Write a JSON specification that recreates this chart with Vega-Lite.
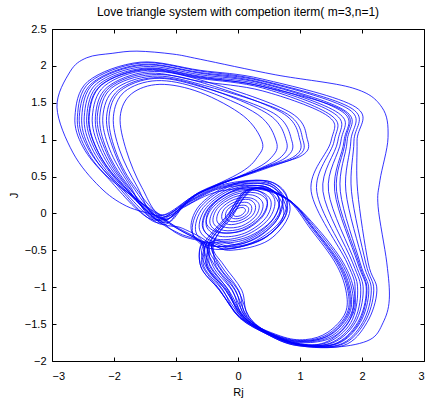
{
"$schema":"https://vega.github.io/schema/vega-lite/v6.json",
"width":372,"height":332,"autosize":"none",
"padding":{"left":52,"top":29,"right":1,"bottom":42},
"background":"white",
"title":{"text":"Love triangle system with competion iterm( m=3,n=1)","font":"Liberation Sans","fontSize":12,"fontWeight":"normal","color":"black","offset":4,"anchor":"middle"},
"config":{"view":{"stroke":"black","strokeWidth":1},
"axis":{"domain":false,"grid":false,"ticks":true,"tickColor":"black","tickSize":4,"tickWidth":1,"offset":-4,"labelFont":"Liberation Sans","labelFontSize":11,"labelColor":"black","titleFont":"Liberation Sans","titleFontSize":11,"titleFontWeight":"normal","titleColor":"black"}},
"datasets":{"pts":[
{"s":"S1","x":0.79,"y":0.23},{"s":"S1","x":0.48,"y":0.44},{"s":"S1","x":-0.10,"y":0.38},{"s":"S1","x":-0.60,"y":0.09},{"s":"S1","x":-0.73,"y":-0.27},{"s":"S1","x":-0.42,"y":-0.48},{"s":"S1","x":0.16,"y":-0.42},{"s":"S1","x":0.66,"y":-0.13},
{"s":"S2","x":0.71,"y":0.24},{"s":"S2","x":0.41,"y":0.44},{"s":"S2","x":-0.15,"y":0.38},{"s":"S2","x":-0.63,"y":0.10},{"s":"S2","x":-0.75,"y":-0.24},{"s":"S2","x":-0.45,"y":-0.44},{"s":"S2","x":0.11,"y":-0.38},{"s":"S2","x":0.59,"y":-0.10},
{"s":"S3","x":0.72,"y":0.21},{"s":"S3","x":0.43,"y":0.40},{"s":"S3","x":-0.10,"y":0.35},{"s":"S3","x":-0.56,"y":0.08},{"s":"S3","x":-0.68,"y":-0.25},{"s":"S3","x":-0.39,"y":-0.44},{"s":"S3","x":0.14,"y":-0.39},{"s":"S3","x":0.60,"y":-0.12},
{"s":"S4","x":0.66,"y":0.20},{"s":"S4","x":0.40,"y":0.37},{"s":"S4","x":-0.09,"y":0.33},{"s":"S4","x":-0.51,"y":0.08},{"s":"S4","x":-0.62,"y":-0.22},{"s":"S4","x":-0.36,"y":-0.39},{"s":"S4","x":0.13,"y":-0.35},{"s":"S4","x":0.55,"y":-0.10},
{"s":"S5","x":0.66,"y":0.20},{"s":"S5","x":0.41,"y":0.37},{"s":"S5","x":-0.05,"y":0.32},{"s":"S5","x":-0.45,"y":0.09},{"s":"S5","x":-0.56,"y":-0.20},{"s":"S5","x":-0.31,"y":-0.37},{"s":"S5","x":0.15,"y":-0.32},{"s":"S5","x":0.55,"y":-0.09},
{"s":"S6","x":0.59,"y":0.19},{"s":"S6","x":0.35,"y":0.35},{"s":"S6","x":-0.09,"y":0.30},{"s":"S6","x":-0.47,"y":0.08},{"s":"S6","x":-0.57,"y":-0.19},{"s":"S6","x":-0.33,"y":-0.35},{"s":"S6","x":0.11,"y":-0.30},{"s":"S6","x":0.49,"y":-0.08},
{"s":"S7","x":0.53,"y":0.17},{"s":"S7","x":0.31,"y":0.31},{"s":"S7","x":-0.08,"y":0.27},{"s":"S7","x":-0.42,"y":0.07},{"s":"S7","x":-0.51,"y":-0.17},{"s":"S7","x":-0.29,"y":-0.31},{"s":"S7","x":0.10,"y":-0.27},{"s":"S7","x":0.44,"y":-0.07},
{"s":"S8","x":0.47,"y":0.19},{"s":"S8","x":0.27,"y":0.32},{"s":"S8","x":-0.10,"y":0.29},{"s":"S8","x":-0.42,"y":0.10},{"s":"S8","x":-0.51,"y":-0.13},{"s":"S8","x":-0.31,"y":-0.26},{"s":"S8","x":0.06,"y":-0.23},{"s":"S8","x":0.38,"y":-0.04},
{"s":"S9","x":0.47,"y":0.16},{"s":"S9","x":0.28,"y":0.28},{"s":"S9","x":-0.07,"y":0.25},{"s":"S9","x":-0.37,"y":0.07},{"s":"S9","x":-0.45,"y":-0.14},{"s":"S9","x":-0.26,"y":-0.26},{"s":"S9","x":0.09,"y":-0.23},{"s":"S9","x":0.39,"y":-0.05},
{"s":"S10","x":0.40,"y":0.14},{"s":"S10","x":0.23,"y":0.25},{"s":"S10","x":-0.07,"y":0.22},{"s":"S10","x":-0.33,"y":0.07},{"s":"S10","x":-0.40,"y":-0.12},{"s":"S10","x":-0.23,"y":-0.23},{"s":"S10","x":0.07,"y":-0.20},{"s":"S10","x":0.33,"y":-0.05},
{"s":"S11","x":0.34,"y":0.12},{"s":"S11","x":0.20,"y":0.21},{"s":"S11","x":-0.06,"y":0.19},{"s":"S11","x":-0.28,"y":0.06},{"s":"S11","x":-0.34,"y":-0.10},{"s":"S11","x":-0.20,"y":-0.19},{"s":"S11","x":0.06,"y":-0.17},{"s":"S11","x":0.28,"y":-0.04},
{"s":"S12","x":0.28,"y":0.11},{"s":"S12","x":0.17,"y":0.19},{"s":"S12","x":-0.04,"y":0.16},{"s":"S12","x":-0.22,"y":0.06},{"s":"S12","x":-0.26,"y":-0.07},{"s":"S12","x":-0.15,"y":-0.15},{"s":"S12","x":0.06,"y":-0.12},{"s":"S12","x":0.24,"y":-0.02},
{"s":"S13","x":0.22,"y":0.09},{"s":"S13","x":0.14,"y":0.15},{"s":"S13","x":-0.03,"y":0.13},{"s":"S13","x":-0.17,"y":0.05},{"s":"S13","x":-0.20,"y":-0.05},{"s":"S13","x":-0.12,"y":-0.11},{"s":"S13","x":0.05,"y":-0.09},{"s":"S13","x":0.19,"y":-0.01},
{"s":"S14","x":0.17,"y":0.07},{"s":"S14","x":0.11,"y":0.11},{"s":"S14","x":-0.01,"y":0.10},{"s":"S14","x":-0.11,"y":0.04},{"s":"S14","x":-0.13,"y":-0.03},{"s":"S14","x":-0.07,"y":-0.07},{"s":"S14","x":0.05,"y":-0.06},{"s":"S14","x":0.15,"y":0.00},
{"s":"S15","x":0.12,"y":0.05},{"s":"S15","x":0.08,"y":0.08},{"s":"S15","x":0.00,"y":0.07},{"s":"S15","x":-0.06,"y":0.03},{"s":"S15","x":-0.08,"y":-0.01},{"s":"S15","x":-0.04,"y":-0.04},{"s":"S15","x":0.04,"y":-0.03},{"s":"S15","x":0.10,"y":0.01},
{"s":"U1","x":-1.22,"y":-0.02},{"s":"U1","x":-1.55,"y":0.35},{"s":"U1","x":-1.80,"y":0.85},{"s":"U1","x":-1.90,"y":1.31},{"s":"U1","x":-1.72,"y":1.62},{"s":"U1","x":-1.26,"y":1.75},{"s":"U1","x":-0.61,"y":1.64},{"s":"U1","x":0.09,"y":1.32},{"s":"U1","x":0.39,"y":0.97},{"s":"U1","x":0.31,"y":0.76},{"s":"U1","x":0.05,"y":0.56},{"s":"U1","x":-0.61,"y":0.28},
{"s":"U2","x":-1.28,"y":-0.06},{"s":"U2","x":-1.63,"y":0.37},{"s":"U2","x":-1.91,"y":0.86},{"s":"U2","x":-2.01,"y":1.31},{"s":"U2","x":-1.83,"y":1.65},{"s":"U2","x":-1.31,"y":1.80},{"s":"U2","x":-0.61,"y":1.69},{"s":"U2","x":0.32,"y":1.34},{"s":"U2","x":0.62,"y":0.97},{"s":"U2","x":0.54,"y":0.76},{"s":"U2","x":0.20,"y":0.57},{"s":"U2","x":-0.61,"y":0.28},
{"s":"U3","x":-1.20,"y":-0.08},{"s":"U3","x":-1.72,"y":0.39},{"s":"U3","x":-2.01,"y":0.87},{"s":"U3","x":-2.12,"y":1.31},{"s":"U3","x":-1.93,"y":1.67},{"s":"U3","x":-1.36,"y":1.84},{"s":"U3","x":-0.61,"y":1.73},{"s":"U3","x":0.48,"y":1.35},{"s":"U3","x":0.78,"y":0.98},{"s":"U3","x":0.70,"y":0.77},{"s":"U3","x":0.30,"y":0.59},{"s":"U3","x":-0.62,"y":0.27},
{"s":"U4","x":-1.30,"y":-0.03},{"s":"U4","x":-1.80,"y":0.41},{"s":"U4","x":-2.12,"y":0.87},{"s":"U4","x":-2.23,"y":1.31},{"s":"U4","x":-2.04,"y":1.70},{"s":"U4","x":-1.40,"y":1.88},{"s":"U4","x":-0.61,"y":1.78},{"s":"U4","x":0.70,"y":1.37},{"s":"U4","x":1.00,"y":0.99},{"s":"U4","x":0.92,"y":0.78},{"s":"U4","x":0.40,"y":0.61},{"s":"U4","x":-0.60,"y":0.29},
{"s":"U5","x":-1.25,"y":-0.10},{"s":"U5","x":-1.86,"y":0.43},{"s":"U5","x":-2.19,"y":0.88},{"s":"U5","x":-2.30,"y":1.31},{"s":"U5","x":-2.11,"y":1.71},{"s":"U5","x":-1.44,"y":1.92},{"s":"U5","x":-0.61,"y":1.81},{"s":"U5","x":0.82,"y":1.38},{"s":"U5","x":1.12,"y":1.00},{"s":"U5","x":1.04,"y":0.79},{"s":"U5","x":0.45,"y":0.62},{"s":"U5","x":-0.60,"y":0.30},
{"s":"U6","x":-1.18,"y":-0.04},{"s":"U6","x":-1.69,"y":0.39},{"s":"U6","x":-1.98,"y":0.86},{"s":"U6","x":-2.08,"y":1.31},{"s":"U6","x":-1.90,"y":1.66},{"s":"U6","x":-1.34,"y":1.83},{"s":"U6","x":-0.61,"y":1.72},{"s":"U6","x":0.57,"y":1.36},{"s":"U6","x":0.87,"y":0.98},{"s":"U6","x":0.79,"y":0.77},{"s":"U6","x":0.35,"y":0.60},{"s":"U6","x":-0.62,"y":0.28},
{"s":"U7","x":-1.32,"y":-0.08},{"s":"U7","x":-1.76,"y":0.40},{"s":"U7","x":-2.07,"y":0.87},{"s":"U7","x":-2.18,"y":1.31},{"s":"U7","x":-1.99,"y":1.68},{"s":"U7","x":-1.38,"y":1.86},{"s":"U7","x":-0.61,"y":1.75},{"s":"U7","x":0.75,"y":1.37},{"s":"U7","x":1.05,"y":0.99},{"s":"U7","x":0.97,"y":0.78},{"s":"U7","x":0.42,"y":0.60},{"s":"U7","x":-0.61,"y":0.29},
{"s":"B1","x":-1.24,"y":-0.07},{"s":"B1","x":-1.83,"y":0.42},{"s":"B1","x":-2.15,"y":0.88},{"s":"B1","x":-2.27,"y":1.31},{"s":"B1","x":-2.07,"y":1.71},{"s":"B1","x":-1.42,"y":1.90},{"s":"B1","x":-0.61,"y":1.79},{"s":"B1","x":0.40,"y":1.66},{"s":"B1","x":1.45,"y":1.32},{"s":"B1","x":1.50,"y":0.98},{"s":"B1","x":1.18,"y":0.30},{"s":"B1","x":1.76,"y":-0.67},{"s":"B1","x":1.89,"y":-1.04},{"s":"B1","x":1.78,"y":-1.48},{"s":"B1","x":1.40,"y":-1.75},{"s":"B1","x":0.95,"y":-1.76},{"s":"B1","x":0.45,"y":-1.60},{"s":"B1","x":0.08,"y":-1.40},{"s":"B1","x":-0.20,"y":-1.04},{"s":"B1","x":-0.50,"y":-0.72},{"s":"B1","x":-0.50,"y":-0.40},{"s":"B1","x":-0.10,"y":-0.47},{"s":"B1","x":0.45,"y":-0.32},{"s":"B1","x":0.78,"y":0.02},{"s":"B1","x":0.50,"y":0.38},{"s":"B1","x":-0.25,"y":0.36},{"s":"B1","x":-0.85,"y":0.12},
{"s":"B2","x":-1.30,"y":-0.10},{"s":"B2","x":-1.90,"y":0.44},{"s":"B2","x":-2.23,"y":0.88},{"s":"B2","x":-2.35,"y":1.31},{"s":"B2","x":-2.15,"y":1.73},{"s":"B2","x":-1.46,"y":1.94},{"s":"B2","x":-0.61,"y":1.83},{"s":"B2","x":0.40,"y":1.70},{"s":"B2","x":1.50,"y":1.33},{"s":"B2","x":1.55,"y":0.98},{"s":"B2","x":1.27,"y":0.30},{"s":"B2","x":1.80,"y":-0.67},{"s":"B2","x":1.93,"y":-1.04},{"s":"B2","x":1.82,"y":-1.48},{"s":"B2","x":1.44,"y":-1.75},{"s":"B2","x":0.95,"y":-1.76},{"s":"B2","x":0.45,"y":-1.60},{"s":"B2","x":0.15,"y":-1.40},{"s":"B2","x":-0.05,"y":-1.04},{"s":"B2","x":-0.35,"y":-0.72},{"s":"B2","x":-0.45,"y":-0.42},{"s":"B2","x":-0.90,"y":-0.20},
{"s":"B3","x":-1.21,"y":-0.12},{"s":"B3","x":-1.93,"y":0.45},{"s":"B3","x":-2.28,"y":0.88},{"s":"B3","x":-2.40,"y":1.31},{"s":"B3","x":-2.20,"y":1.74},{"s":"B3","x":-1.48,"y":1.95},{"s":"B3","x":-0.61,"y":1.84},{"s":"B3","x":0.40,"y":1.72},{"s":"B3","x":1.56,"y":1.35},{"s":"B3","x":1.61,"y":0.98},{"s":"B3","x":1.37,"y":0.30},{"s":"B3","x":1.85,"y":-0.67},{"s":"B3","x":1.98,"y":-1.04},{"s":"B3","x":1.86,"y":-1.48},{"s":"B3","x":1.48,"y":-1.76},{"s":"B3","x":0.95,"y":-1.77},{"s":"B3","x":0.45,"y":-1.61},{"s":"B3","x":0.03,"y":-1.40},{"s":"B3","x":-0.30,"y":-1.04},{"s":"B3","x":-0.60,"y":-0.72},{"s":"B3","x":-0.56,"y":-0.38},{"s":"B3","x":-0.15,"y":-0.50},{"s":"B3","x":0.50,"y":-0.36},{"s":"B3","x":0.84,"y":0.05},{"s":"B3","x":0.55,"y":0.42},{"s":"B3","x":-0.20,"y":0.40},{"s":"B3","x":-0.80,"y":0.16},
{"s":"B4","x":-1.35,"y":-0.06},{"s":"B4","x":-1.96,"y":0.45},{"s":"B4","x":-2.32,"y":0.89},{"s":"B4","x":-2.44,"y":1.31},{"s":"B4","x":-2.24,"y":1.75},{"s":"B4","x":-1.50,"y":1.97},{"s":"B4","x":-0.61,"y":1.86},{"s":"B4","x":0.40,"y":1.74},{"s":"B4","x":1.62,"y":1.36},{"s":"B4","x":1.66,"y":0.98},{"s":"B4","x":1.46,"y":0.30},{"s":"B4","x":1.89,"y":-0.67},{"s":"B4","x":2.02,"y":-1.04},{"s":"B4","x":1.89,"y":-1.48},{"s":"B4","x":1.51,"y":-1.76},{"s":"B4","x":0.95,"y":-1.77},{"s":"B4","x":0.45,"y":-1.61},{"s":"B4","x":0.10,"y":-1.40},{"s":"B4","x":-0.15,"y":-1.04},{"s":"B4","x":-0.45,"y":-0.72},{"s":"B4","x":-0.50,"y":-0.42},{"s":"B4","x":-0.95,"y":-0.27},
{"s":"B5","x":-1.27,"y":-0.14},{"s":"B5","x":-2.00,"y":0.46},{"s":"B5","x":-2.36,"y":0.89},{"s":"B5","x":-2.48,"y":1.31},{"s":"B5","x":-2.28,"y":1.76},{"s":"B5","x":-1.52,"y":1.99},{"s":"B5","x":-0.61,"y":1.88},{"s":"B5","x":0.40,"y":1.76},{"s":"B5","x":1.68,"y":1.38},{"s":"B5","x":1.71,"y":0.98},{"s":"B5","x":1.56,"y":0.30},{"s":"B5","x":1.93,"y":-0.67},{"s":"B5","x":2.07,"y":-1.04},{"s":"B5","x":1.93,"y":-1.48},{"s":"B5","x":1.55,"y":-1.77},{"s":"B5","x":0.95,"y":-1.77},{"s":"B5","x":0.45,"y":-1.61},{"s":"B5","x":0.18,"y":-1.40},{"s":"B5","x":0.00,"y":-1.04},{"s":"B5","x":-0.30,"y":-0.72},{"s":"B5","x":-0.42,"y":-0.38},{"s":"B5","x":0.00,"y":-0.42},{"s":"B5","x":0.40,"y":-0.28},{"s":"B5","x":0.68,"y":0.02},{"s":"B5","x":0.45,"y":0.32},{"s":"B5","x":-0.30,"y":0.30},{"s":"B5","x":-0.88,"y":0.08},
{"s":"B6","x":-1.19,"y":-0.09},{"s":"B6","x":-2.03,"y":0.47},{"s":"B6","x":-2.40,"y":0.89},{"s":"B6","x":-2.52,"y":1.31},{"s":"B6","x":-2.32,"y":1.77},{"s":"B6","x":-1.53,"y":2.01},{"s":"B6","x":-0.61,"y":1.90},{"s":"B6","x":0.40,"y":1.77},{"s":"B6","x":1.73,"y":1.39},{"s":"B6","x":1.76,"y":0.98},{"s":"B6","x":1.65,"y":0.30},{"s":"B6","x":1.97,"y":-0.67},{"s":"B6","x":2.11,"y":-1.04},{"s":"B6","x":1.97,"y":-1.48},{"s":"B6","x":1.59,"y":-1.77},{"s":"B6","x":0.95,"y":-1.78},{"s":"B6","x":0.45,"y":-1.62},{"s":"B6","x":0.06,"y":-1.41},{"s":"B6","x":-0.25,"y":-1.04},{"s":"B6","x":-0.55,"y":-0.72},{"s":"B6","x":-0.56,"y":-0.42},{"s":"B6","x":-0.88,"y":-0.25},
{"s":"B7","x":-1.33,"y":-0.12},{"s":"B7","x":-2.05,"y":0.48},{"s":"B7","x":-2.43,"y":0.90},{"s":"B7","x":-2.56,"y":1.31},{"s":"B7","x":-2.35,"y":1.77},{"s":"B7","x":-1.55,"y":2.02},{"s":"B7","x":-0.61,"y":1.91},{"s":"B7","x":0.40,"y":1.79},{"s":"B7","x":1.79,"y":1.41},{"s":"B7","x":1.82,"y":0.98},{"s":"B7","x":1.74,"y":0.30},{"s":"B7","x":2.02,"y":-0.67},{"s":"B7","x":2.15,"y":-1.04},{"s":"B7","x":2.01,"y":-1.48},{"s":"B7","x":1.63,"y":-1.78},{"s":"B7","x":0.95,"y":-1.78},{"s":"B7","x":0.45,"y":-1.62},{"s":"B7","x":0.13,"y":-1.41},{"s":"B7","x":-0.10,"y":-1.04},{"s":"B7","x":-0.40,"y":-0.72},{"s":"B7","x":-0.46,"y":-0.40},{"s":"B7","x":-0.05,"y":-0.45},{"s":"B7","x":0.48,"y":-0.30},{"s":"B7","x":0.80,"y":0.06},{"s":"B7","x":0.52,"y":0.40},{"s":"B7","x":-0.22,"y":0.38},{"s":"B7","x":-0.83,"y":0.14},
{"s":"B8","x":-1.26,"y":-0.03},{"s":"B8","x":-2.08,"y":0.48},{"s":"B8","x":-2.47,"y":0.90},{"s":"B8","x":-2.59,"y":1.31},{"s":"B8","x":-2.39,"y":1.78},{"s":"B8","x":-1.56,"y":2.04},{"s":"B8","x":-0.61,"y":1.93},{"s":"B8","x":0.40,"y":1.80},{"s":"B8","x":1.84,"y":1.42},{"s":"B8","x":1.87,"y":0.98},{"s":"B8","x":1.83,"y":0.30},{"s":"B8","x":2.06,"y":-0.67},{"s":"B8","x":2.19,"y":-1.04},{"s":"B8","x":2.04,"y":-1.48},{"s":"B8","x":1.66,"y":-1.78},{"s":"B8","x":0.95,"y":-1.79},{"s":"B8","x":0.45,"y":-1.63},{"s":"B8","x":0.08,"y":-1.41},{"s":"B8","x":-0.20,"y":-1.04},{"s":"B8","x":-0.50,"y":-0.72},{"s":"B8","x":-0.53,"y":-0.42},{"s":"B8","x":-1.00,"y":-0.18},
{"s":"B9","x":-1.40,"y":-0.08},{"s":"B9","x":-2.11,"y":0.49},{"s":"B9","x":-2.50,"y":0.90},{"s":"B9","x":-2.63,"y":1.31},{"s":"B9","x":-2.42,"y":1.79},{"s":"B9","x":-1.58,"y":2.05},{"s":"B9","x":-0.61,"y":1.94},{"s":"B9","x":0.40,"y":1.82},{"s":"B9","x":1.90,"y":1.44},{"s":"B9","x":1.92,"y":0.98},{"s":"B9","x":1.93,"y":0.30},{"s":"B9","x":2.10,"y":-0.67},{"s":"B9","x":2.24,"y":-1.04},{"s":"B9","x":2.08,"y":-1.48},{"s":"B9","x":1.70,"y":-1.79},{"s":"B9","x":0.95,"y":-1.79},{"s":"B9","x":0.45,"y":-1.63},{"s":"B9","x":0.03,"y":-1.41},{"s":"B9","x":-0.30,"y":-1.04},{"s":"B9","x":-0.60,"y":-0.72},{"s":"B9","x":-0.56,"y":-0.40},{"s":"B9","x":-0.18,"y":-0.48},{"s":"B9","x":0.42,"y":-0.34},{"s":"B9","x":0.74,"y":0.00},{"s":"B9","x":0.48,"y":0.35},{"s":"B9","x":-0.28,"y":0.34},{"s":"B9","x":-0.86,"y":0.10},
{"s":"B10","x":-1.23,"y":-0.11},{"s":"B10","x":-1.94,"y":0.45},{"s":"B10","x":-2.29,"y":0.89},{"s":"B10","x":-2.41,"y":1.31},{"s":"B10","x":-2.21,"y":1.74},{"s":"B10","x":-1.48,"y":1.96},{"s":"B10","x":-0.61,"y":1.85},{"s":"B10","x":0.40,"y":1.72},{"s":"B10","x":1.70,"y":1.39},{"s":"B10","x":1.73,"y":0.98},{"s":"B10","x":1.59,"y":0.30},{"s":"B10","x":1.95,"y":-0.67},{"s":"B10","x":2.08,"y":-1.04},{"s":"B10","x":1.95,"y":-1.48},{"s":"B10","x":1.57,"y":-1.77},{"s":"B10","x":0.95,"y":-1.77},{"s":"B10","x":0.45,"y":-1.61},{"s":"B10","x":0.09,"y":-1.40},{"s":"B10","x":-0.18,"y":-1.04},{"s":"B10","x":-0.48,"y":-0.72},{"s":"B10","x":-0.52,"y":-0.42},{"s":"B10","x":-0.92,"y":-0.30},
{"s":"O","x":-1.26,"y":-0.05},{"s":"O","x":-1.80,"y":0.10},{"s":"O","x":-2.23,"y":0.36},{"s":"O","x":-2.66,"y":0.82},{"s":"O","x":-2.92,"y":1.44},{"s":"O","x":-2.71,"y":1.92},{"s":"O","x":-2.44,"y":2.11},{"s":"O","x":-2.03,"y":2.17},{"s":"O","x":-1.63,"y":2.20},{"s":"O","x":-1.05,"y":2.16},{"s":"O","x":-0.61,"y":2.09},{"s":"O","x":0.60,"y":1.88},{"s":"O","x":1.85,"y":1.70},{"s":"O","x":2.32,"y":1.44},{"s":"O","x":2.42,"y":1.03},{"s":"O","x":2.29,"y":0.45},{"s":"O","x":2.26,"y":0.09},{"s":"O","x":2.40,"y":-0.67},{"s":"O","x":2.44,"y":-1.17},{"s":"O","x":2.34,"y":-1.48},{"s":"O","x":2.13,"y":-1.71},{"s":"O","x":1.60,"y":-1.81},{"s":"O","x":1.00,"y":-1.78},{"s":"O","x":0.50,"y":-1.64},{"s":"O","x":0.03,"y":-1.42},{"s":"O","x":-0.28,"y":-1.05},{"s":"O","x":-0.58,"y":-0.70},{"s":"O","x":-0.57,"y":-0.42},{"s":"O","x":-0.95,"y":-0.22},
{"s":"L1","x":0.20,"y":0.33},{"s":"L1","x":0.79,"y":0.20},{"s":"L1","x":1.21,"y":-0.22},{"s":"L1","x":1.60,"y":-0.67},{"s":"L1","x":1.77,"y":-1.04},{"s":"L1","x":1.76,"y":-1.35},{"s":"L1","x":1.48,"y":-1.62},{"s":"L1","x":1.11,"y":-1.72},{"s":"L1","x":0.68,"y":-1.67},{"s":"L1","x":0.03,"y":-1.41},{"s":"L1","x":-0.24,"y":-1.04},{"s":"L1","x":-0.53,"y":-0.70},{"s":"L1","x":-0.56,"y":-0.43},{"s":"L1","x":-0.20,"y":-0.05},
{"s":"L2","x":0.20,"y":0.34},{"s":"L2","x":0.80,"y":0.19},{"s":"L2","x":1.24,"y":-0.22},{"s":"L2","x":1.64,"y":-0.67},{"s":"L2","x":1.81,"y":-1.04},{"s":"L2","x":1.80,"y":-1.35},{"s":"L2","x":1.52,"y":-1.63},{"s":"L2","x":1.13,"y":-1.73},{"s":"L2","x":0.68,"y":-1.68},{"s":"L2","x":0.10,"y":-1.41},{"s":"L2","x":-0.09,"y":-1.04},{"s":"L2","x":-0.38,"y":-0.70},{"s":"L2","x":-0.48,"y":-0.43},{"s":"L2","x":-0.15,"y":-0.05},
{"s":"L3","x":0.25,"y":0.34},{"s":"L3","x":0.81,"y":0.19},{"s":"L3","x":1.27,"y":-0.22},{"s":"L3","x":1.67,"y":-0.67},{"s":"L3","x":1.84,"y":-1.04},{"s":"L3","x":1.83,"y":-1.35},{"s":"L3","x":1.55,"y":-1.64},{"s":"L3","x":1.15,"y":-1.74},{"s":"L3","x":0.68,"y":-1.69},{"s":"L3","x":0.15,"y":-1.41},{"s":"L3","x":0.01,"y":-1.04},{"s":"L3","x":-0.28,"y":-0.70},{"s":"L3","x":-0.42,"y":-0.43},{"s":"L3","x":-0.10,"y":-0.05},
{"s":"L4","x":0.15,"y":0.32},{"s":"L4","x":0.77,"y":0.20},{"s":"L4","x":1.18,"y":-0.22},{"s":"L4","x":1.57,"y":-0.67},{"s":"L4","x":1.74,"y":-1.04},{"s":"L4","x":1.73,"y":-1.35},{"s":"L4","x":1.45,"y":-1.61},{"s":"L4","x":1.09,"y":-1.71},{"s":"L4","x":0.68,"y":-1.66},{"s":"L4","x":0.07,"y":-1.41},{"s":"L4","x":-0.16,"y":-1.04},{"s":"L4","x":-0.45,"y":-0.70},{"s":"L4","x":-0.52,"y":-0.43},{"s":"L4","x":-0.18,"y":-0.05},
{"s":"L5","x":0.30,"y":0.35},{"s":"L5","x":0.82,"y":0.18},{"s":"L5","x":1.30,"y":-0.22},{"s":"L5","x":1.70,"y":-0.67},{"s":"L5","x":1.87,"y":-1.04},{"s":"L5","x":1.86,"y":-1.35},{"s":"L5","x":1.58,"y":-1.65},{"s":"L5","x":1.17,"y":-1.75},{"s":"L5","x":0.68,"y":-1.70},{"s":"L5","x":0.18,"y":-1.41},{"s":"L5","x":0.06,"y":-1.04},{"s":"L5","x":-0.23,"y":-0.70},{"s":"L5","x":-0.40,"y":-0.43},{"s":"L5","x":-0.10,"y":-0.02},
{"s":"L6","x":0.22,"y":0.33},{"s":"L6","x":0.80,"y":0.20},{"s":"L6","x":1.23,"y":-0.22},{"s":"L6","x":1.62,"y":-0.67},{"s":"L6","x":1.79,"y":-1.04},{"s":"L6","x":1.78,"y":-1.35},{"s":"L6","x":1.50,"y":-1.63},{"s":"L6","x":1.12,"y":-1.73},{"s":"L6","x":0.68,"y":-1.68},{"s":"L6","x":0.13,"y":-1.41},{"s":"L6","x":-0.04,"y":-1.04},{"s":"L6","x":-0.33,"y":-0.70},{"s":"L6","x":-0.46,"y":-0.43},{"s":"L6","x":-0.15,"y":-0.05}
],
"frame":[{"x":0,"y":0}]},
"layer":[
{"data":{"name":"pts"},
"mark":{"type":"line","interpolate":"cardinal-closed","strokeWidth":0.8,"color":"#0000ff","clip":true},
"encoding":{
"x":{"field":"x","type":"quantitative","scale":{"domain":[-3,3],"nice":false,"zero":false},"axis":{"orient":"bottom","values":[-3,-2,-1,0,1,2,3],"format":"~g","labelPadding":9,"title":"Rj","titlePadding":5}},
"y":{"field":"y","type":"quantitative","scale":{"domain":[-2,2.5],"nice":false,"zero":false},"axis":{"orient":"left","values":[-2,-1.5,-1,-0.5,0,0.5,1,1.5,2,2.5],"format":"~g","labelPadding":6,"title":"J","titlePadding":5}},
"detail":{"field":"s","type":"nominal"},
"order":{"value":null}}},
{"data":{"name":"frame"},
"mark":{"type":"point","opacity":0},
"encoding":{
"x":{"field":"x","type":"quantitative","scale":{"domain":[-3,3],"nice":false,"zero":false},"axis":{"orient":"top","values":[-3,-2,-1,0,1,2,3],"labels":false,"title":null}},
"y":{"field":"y","type":"quantitative","scale":{"domain":[-2,2.5],"nice":false,"zero":false},"axis":{"orient":"right","values":[-2,-1.5,-1,-0.5,0,0.5,1,1.5,2,2.5],"labels":false,"title":null}}}}
],
"resolve":{"axis":{"x":"independent","y":"independent"}}
}
